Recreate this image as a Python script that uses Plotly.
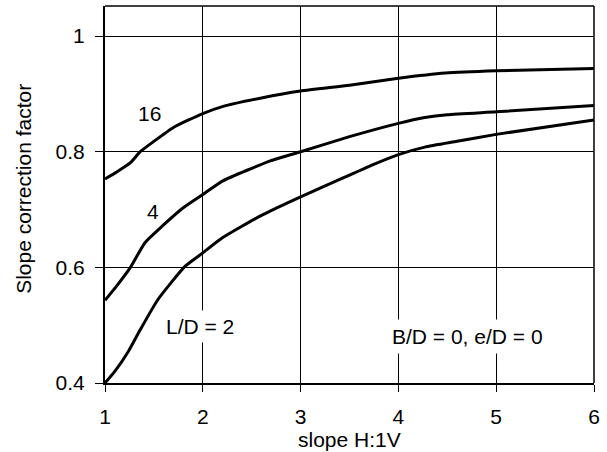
import plotly.graph_objects as go

# Slope H:1V values and slope correction factor for each L/D ratio
slope_16 = [1.0, 1.12, 1.26, 1.36, 1.5, 1.7, 2.0, 2.2, 2.6, 3.0, 3.5, 4.0, 4.48, 5.0, 6.0]
factor_16 = [0.753, 0.765, 0.781, 0.800, 0.818, 0.842, 0.866, 0.878, 0.893, 0.905, 0.915, 0.927, 0.936, 0.940, 0.944]

slope_4 = [1.0, 1.12, 1.26, 1.41, 1.59, 1.8, 2.0, 2.21, 2.69, 3.0, 3.5, 4.0, 4.27, 4.5, 5.0, 6.0]
factor_4 = [0.543, 0.568, 0.600, 0.643, 0.672, 0.703, 0.726, 0.750, 0.784, 0.800, 0.826, 0.849, 0.859, 0.864, 0.869, 0.880]

slope_2 = [1.0, 1.1, 1.24, 1.36, 1.54, 1.82, 2.0, 2.2, 2.6, 3.0, 3.4, 3.76, 4.0, 4.27, 4.6, 5.0, 6.0]
factor_2 = [0.400, 0.420, 0.455, 0.492, 0.544, 0.602, 0.625, 0.651, 0.690, 0.722, 0.752, 0.779, 0.795, 0.808, 0.818, 0.830, 0.855]

x_ticks = [1, 2, 3, 4, 5, 6]
y_ticks = [0.4, 0.6, 0.8, 1.0]
y_tick_text = ["0.4", "0.6", "0.8", "1"]

FONT = "Liberation Sans, Arial, sans-serif"
SIZE = 21

fig = go.Figure()
for xs, ys in [(slope_16, factor_16), (slope_4, factor_4), (slope_2, factor_2)]:
    fig.add_trace(go.Scatter(
        x=xs, y=ys, mode="lines",
        line=dict(color="black", width=3, shape="spline", smoothing=0.5),
        showlegend=False, hoverinfo="skip",
    ))

labels = [
    dict(x=1.46, y=0.866, text="16", pad=1),
    dict(x=1.49, y=0.697, text="4", pad=1),
    dict(x=1.976, y=0.498, text="L/D = 2", pad=4),
    dict(x=4.707, y=0.481, text="B/D = 0, e/D = 0", pad=5),
]
for lab in labels:
    fig.add_annotation(
        x=lab["x"], y=lab["y"], text=lab["text"], showarrow=False,
        font=dict(family=FONT, size=SIZE, color="black"),
        bgcolor="white", borderpad=lab["pad"],
    )

fig.add_annotation(
    xref="paper", yref="paper", x=-0.1656, y=0.515, text="Slope correction factor",
    xanchor="center", yanchor="middle",
    textangle=-90, showarrow=False, font=dict(family=FONT, size=SIZE, color="black"),
)
fig.add_annotation(
    xref="paper", yref="paper", x=0.499, y=-0.151, text="slope H:1V",
    xanchor="center", yanchor="middle",
    showarrow=False, font=dict(family=FONT, size=SIZE, color="black"),
)

fig.update_xaxes(
    range=[1, 6], tickvals=x_ticks, ticks="outside", ticklen=7, tickcolor="black",
    ticklabelstandoff=7,
    showgrid=True, gridcolor="black", gridwidth=1,
    showline=True, linecolor="black", linewidth=2, mirror=False,
    zeroline=False, tickfont=dict(family=FONT, size=SIZE, color="black"),
)
fig.update_yaxes(
    range=[0.4, 1.052], tickvals=y_ticks, ticktext=y_tick_text,
    ticks="outside", ticklen=8, tickcolor="black",
    ticklabelstandoff=6,
    showgrid=True, gridcolor="black", gridwidth=1,
    showline=True, linecolor="black", linewidth=2, mirror=False,
    zeroline=False, tickfont=dict(family=FONT, size=SIZE, color="black"),
)

# thin frame along the top and right edges
fig.add_shape(type="line", xref="paper", yref="paper", x0=0, x1=1, y0=1, y1=1,
              line=dict(color="black", width=1.3))
fig.add_shape(type="line", xref="paper", yref="paper", x0=1, x1=1, y0=0, y1=1,
              line=dict(color="black", width=1.5))

fig.update_layout(
    width=607, height=452,
    margin=dict(l=105, r=13, t=6, b=69),
    plot_bgcolor="white", paper_bgcolor="white",
    font=dict(family=FONT, color="black"),
)

fig.write_html("out.html")
